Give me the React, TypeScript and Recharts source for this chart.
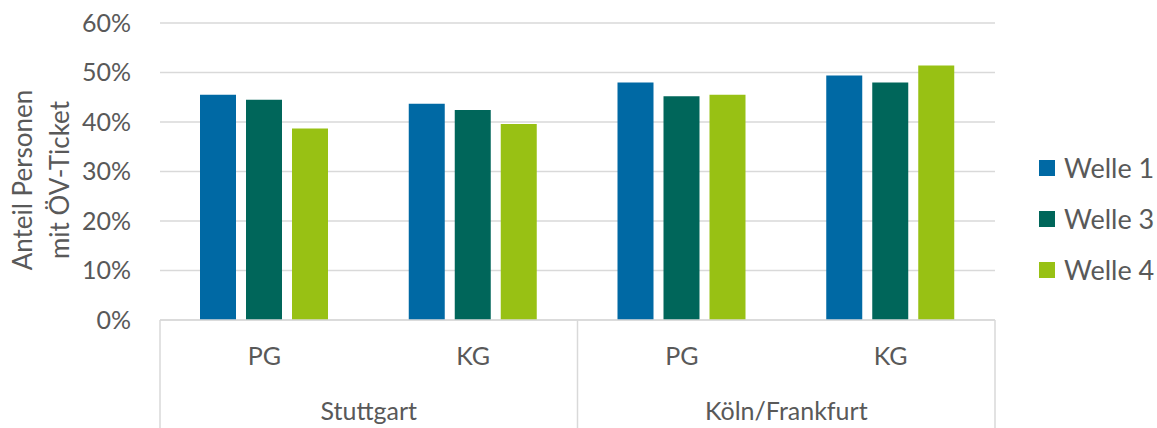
import React from 'react';
import { BarChart, Bar, XAxis, YAxis, CartesianGrid, Legend } from 'recharts';

// Werte in Prozent
const gruppen = ['PG', 'KG', 'PG', 'KG'];
const staedte = ['Stuttgart', 'Stuttgart', 'Köln/Frankfurt', 'Köln/Frankfurt'];
const welle1 = [45.5, 43.7, 48.0, 49.4];
const welle3 = [44.5, 42.4, 45.2, 48.0];
const welle4 = [38.7, 39.6, 45.5, 51.4];
const yTicks = [0, 10, 20, 30, 40, 50, 60];

const serien = [
  { key: 'w1', name: 'Welle 1', color: '#0069A4' },
  { key: 'w3', name: 'Welle 3', color: '#00665A' },
  { key: 'w4', name: 'Welle 4', color: '#98C114' },
];

const data = gruppen.map((g, i) => ({
  gruppe: g,
  stadt: staedte[i],
  w1: welle1[i],
  w3: welle3[i],
  w4: welle4[i],
}));

const FONT = 'Lato, "Open Sans", sans-serif';
const TEXT = '#595959';
const LINE = '#D9D9D9';
const W = 1157;
const H = 428;
const M = { top: 23, right: 162, left: 0, bottom: 0 };
const Y_W = 160;
const X_H = 108;

// zweistufige Kategorieachse: Gruppe oben, Stadt darunter, Trennlinien zwischen Städten
const CategoryTick = (props: any) => {
  const { x, y, payload, index } = props;
  const i = payload?.index ?? index;
  const half = payload?.offset || (W - M.right - Y_W) / gruppen.length / 2;
  const startsCity = i === 0 || staedte[i] !== staedte[i - 1];
  let size = 0;
  if (startsCity) {
    while (staedte[i + size] === staedte[i]) size++;
  }
  const isLast = i === gruppen.length - 1;
  return (
    <g>
      <text x={x} y={y + 45} textAnchor="middle" fill={TEXT} fontSize={25} fontFamily={FONT}>
        {payload.value}
      </text>
      {startsCity && (
        <>
          <line x1={x - half} x2={x - half} y1={y} y2={y + X_H} stroke={LINE} strokeWidth={1.5} />
          <text x={x - half + size * half} y={y + 100} textAnchor="middle" fill={TEXT} fontSize={25} fontFamily={FONT}>
            {staedte[i]}
          </text>
        </>
      )}
      {isLast && <line x1={x + half} x2={x + half} y1={y} y2={y + X_H} stroke={LINE} strokeWidth={1.5} />}
    </g>
  );
};

const YLabel = () => (
  <g fill={TEXT} fontSize={26} fontFamily={FONT}>
    <text transform="translate(32,180) rotate(-90)" textAnchor="middle">Anteil Personen</text>
    <text transform="translate(69,180) rotate(-90)" textAnchor="middle">mit ÖV-Ticket</text>
  </g>
);

const LegendContent = () => (
  <div style={{ fontFamily: FONT }}>
    {serien.map(s => (
      <div key={s.key} style={{ display: 'flex', alignItems: 'center', height: 51 }}>
        <span style={{ width: 16, height: 16, background: s.color, display: 'inline-block', marginRight: 9 }} />
        <span style={{ color: TEXT, fontSize: 27 }}>{s.name}</span>
      </div>
    ))}
  </div>
);

export default function App() {
  return (
    <div style={{ position: 'absolute', left: 0, top: 0, width: W, height: H, background: '#fff' }}>
      <BarChart width={W} height={H} data={data} margin={M} barCategoryGap={40} barGap={10}>
        <CartesianGrid vertical={false} stroke={LINE} strokeWidth={1.5} />
        <XAxis
          dataKey="gruppe"
          height={X_H}
          interval={0}
          tickSize={0}
          tickMargin={0}
          axisLine={{ stroke: LINE, strokeWidth: 1.5 }}
          tick={<CategoryTick />}
        />
        <YAxis
          width={Y_W}
          domain={[0, 60]}
          ticks={yTicks}
          tickFormatter={(v: number) => `${v}%`}
          axisLine={false}
          tickLine={false}
          tickSize={0}
          tickMargin={29}
          tick={{ fill: TEXT, fontSize: 25, fontFamily: FONT }}
          label={<YLabel />}
        />
        <Legend
          layout="vertical"
          align="center"
          verticalAlign="middle"
          content={<LegendContent />}
          wrapperStyle={{ left: 1039, top: 142, width: 118 }}
        />
        {serien.map(s => (
          <Bar key={s.key} dataKey={s.key} name={s.name} fill={s.color} isAnimationActive={false} />
        ))}
      </BarChart>
    </div>
  );
}
